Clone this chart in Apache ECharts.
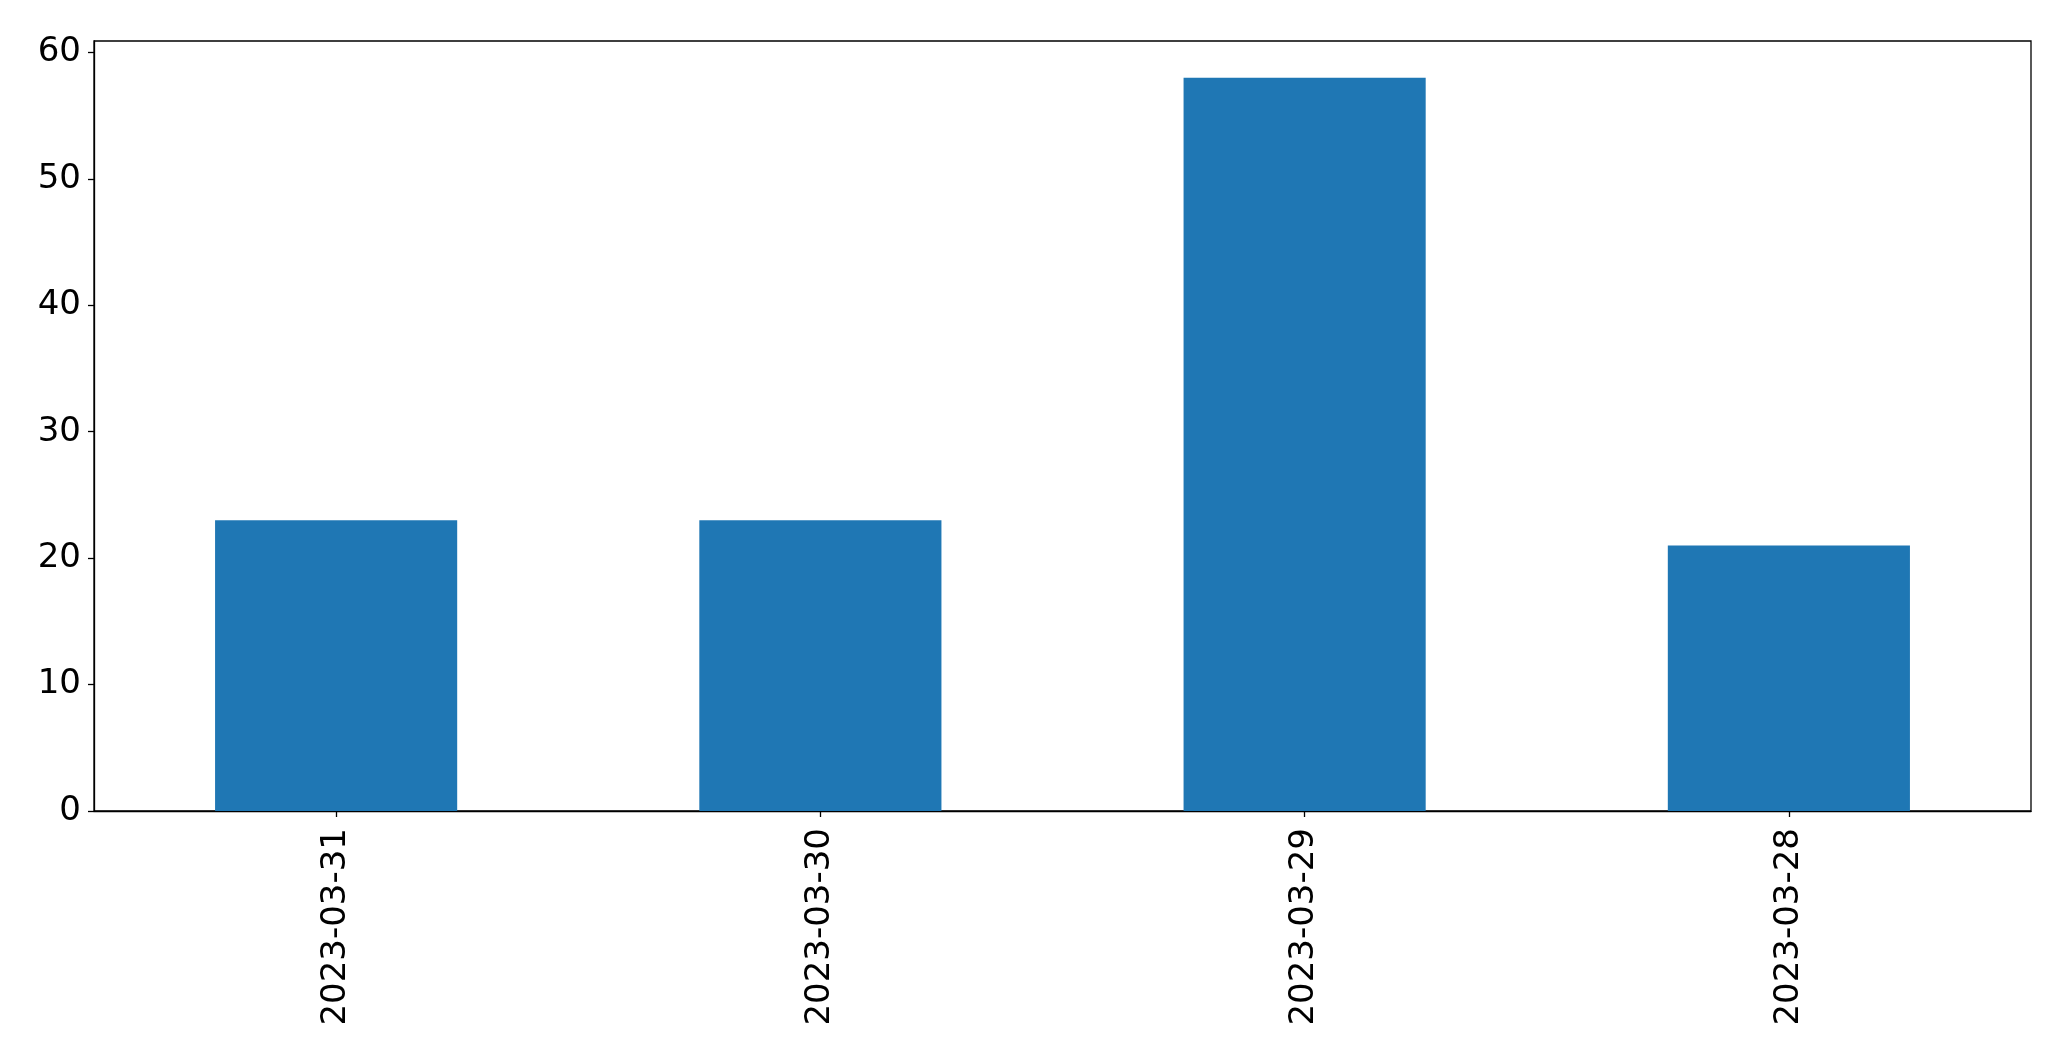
<!DOCTYPE html>
<html>
<head>
<meta charset="utf-8">
<script src="https://cdn.jsdelivr.net/npm/echarts@6/dist/echarts.min.js"></script>
<style>html,body{margin:0;padding:0;background:#fff;}#c{width:2071px;height:1063px;}</style>
</head>
<body>
<div id="c"></div>
<script>
const categories = ['2023-03-31', '2023-03-30', '2023-03-29', '2023-03-28'];
const values = [23, 23, 58, 21];
const yTicks = [0, 10, 20, 30, 40, 50, 60];

const chart = echarts.init(document.getElementById('c'), null, {renderer: 'canvas'});
chart.setOption({
  animation: false,
  backgroundColor: '#ffffff',
  grid: {left: 94, top: 41, width: 1937, height: 770, show: true, borderColor: '#000', borderWidth: 1.3, backgroundColor: 'transparent'},
  xAxis: {
    type: 'category',
    data: categories,
    boundaryGap: true,
    axisLine: {show: true, lineStyle: {color: '#000', width: 1.3}},
    axisTick: {show: true, alignWithLabel: true, length: 6, lineStyle: {color: '#000', width: 1.3}},
    axisLabel: {rotate: 90, margin: 17, color: '#000', fontSize: 34, fontFamily: 'DejaVu Sans'},
    splitLine: {show: false}
  },
  yAxis: {
    type: 'value',
    min: 0,
    max: 60.9,
    axisLine: {show: true, lineStyle: {color: '#000', width: 1.3}},
    axisTick: {show: true, length: 6, lineStyle: {color: '#000', width: 1.3}, customValues: yTicks},
    axisLabel: {margin: 13, color: '#000', fontSize: 34, fontFamily: 'DejaVu Sans', customValues: yTicks},
    splitLine: {show: false}
  },
  series: [{
    type: 'bar',
    data: values,
    barWidth: '50%',
    itemStyle: {color: '#1f77b4'}
  }]
});
</script>
</body>
</html>
